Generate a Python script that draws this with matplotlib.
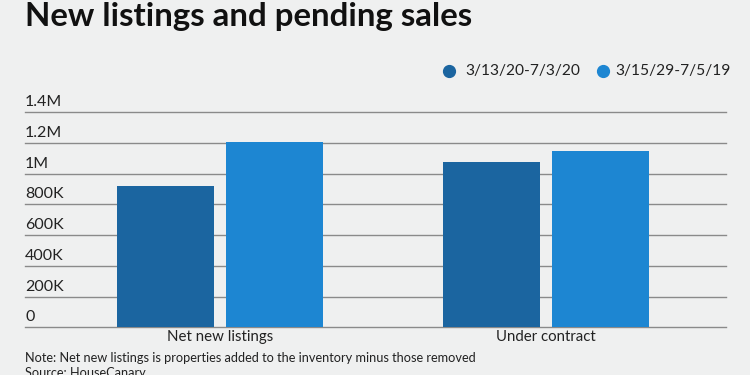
import matplotlib
matplotlib.use('Agg')
import matplotlib.pyplot as plt
import matplotlib.transforms as mtransforms
from matplotlib.lines import Line2D

categories = ['Net new listings', 'Under contract']
series_names = ['3/13/20-7/3/20', '3/15/29-7/5/19']
values_2020 = [918000, 1072000]
values_2019 = [1203000, 1144000]
y_ticks = [0, 200000, 400000, 600000, 800000, 1000000, 1200000, 1400000]
y_labels = ['0', '200K', '400K', '600K', '800K', '1M', '1.2M', '1.4M']

bg = '#eff0f0'
dark = '#1b65a0'
light = '#1d86d2'

plt.rcParams['font.family'] = ['Lato', 'DejaVu Sans']

fig = plt.figure(figsize=(7.5, 3.75), dpi=100, facecolor=bg)
ax = fig.add_axes([25 / 750, 47.7 / 375, 701 / 750, 215.3 / 375], facecolor=bg)

x = [0, 1]
w = 0.298
off = 0.1665
ax.bar([i - off for i in x], values_2020, w, color=dark, zorder=3)
ax.bar([i + off for i in x], values_2019, w, color=light, zorder=3)

ax.set_xlim(-0.598, 1.552)
ax.set_ylim(0, 1400000)
for s in ax.spines.values():
    s.set_visible(False)
ax.set_yticks(y_ticks)
ax.set_yticklabels([])
ax.tick_params(axis='y', length=0)
ax.yaxis.grid(True, color='#8a8a8a', linewidth=1, zorder=0)
ax.set_axisbelow(True)
for gl in ax.get_ygridlines():
    gl.set_clip_on(False)

# y labels sit on top of the gridlines
trans = mtransforms.blended_transform_factory(ax.transAxes, ax.transData)
offset = mtransforms.ScaledTranslation(0, 3 / 100, fig.dpi_scale_trans)
for v, lab in zip(y_ticks, y_labels):
    ax.text(0, v, lab, transform=trans + offset, ha='left', va='bottom',
            fontsize=11.5, color='#222222')

ax.set_xticks(x)
ax.set_xticklabels(categories, fontsize=10.8, color='#222222')
ax.tick_params(axis='x', length=0, pad=2)

fig.text(25 / 750, 1 - 26 / 375, 'New listings and pending sales', fontsize=23.8,
         fontweight='bold', color='#111111', ha='left', va='baseline')

# legend
ly = 1 - 71 / 375
for mx, col in [(449, dark), (602.5, light)]:
    fig.add_artist(Line2D([mx / 750], [ly], marker='o', markersize=8.5, color=col,
                          linestyle='none', transform=fig.transFigure))
fig.text(465 / 750, ly, series_names[0], fontsize=11.2, color='#222222',
         ha='left', va='center')
fig.text(615 / 750, ly, series_names[1], fontsize=11.2, color='#222222',
         ha='left', va='center')

fig.text(25 / 750, 1 - 362 / 375, 'Note: Net new listings is properties added to the inventory minus those removed',
         fontsize=9.2, color='#222222', ha='left', va='baseline')
fig.text(25 / 750, 1 - 377 / 375, 'Source: HouseCanary', fontsize=9.2, color='#222222',
         ha='left', va='baseline')

fig.savefig('out.png', dpi=100, facecolor=bg)
